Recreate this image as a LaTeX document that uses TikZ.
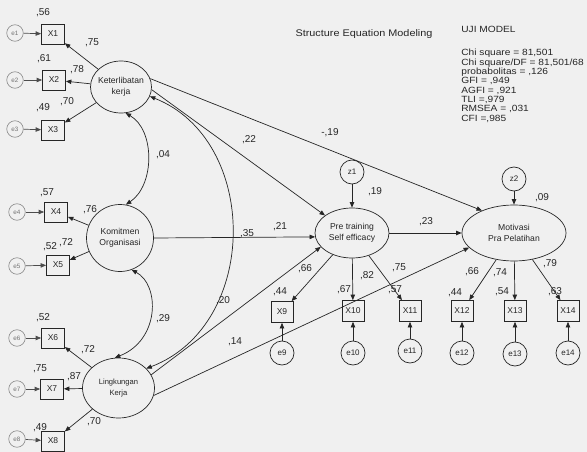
\documentclass[tikz,border=0pt]{standalone}
\usepackage{fontspec}
\setmainfont{Liberation Sans}
\newfontfamily\widefont[FakeStretch=1.13]{Liberation Sans}
\usetikzlibrary{arrows.meta,shapes.geometric}
\begin{document}
\begin{tikzpicture}[x=1pt,y=-1pt,
  color=black!85,
  line width=0.7pt,
  >={Triangle[length=5.5pt,width=4.4pt]},
  lat/.style={ellipse,draw,inner sep=-5pt,align=center,font=\fontsize{8.6}{10.8}\selectfont},
  obs/.style={rectangle,draw,minimum width=23pt,minimum height=20pt,inner sep=0pt,font=\fontsize{8.5}{10}\selectfont},
  obsb/.style={obs,minimum width=22pt,minimum height=21pt},
  err/.style={circle,draw,minimum size=24pt,inner sep=0pt,font=\fontsize{8}{9}\selectfont},
  errg/.style={circle,draw=black!45,line width=0.6pt,minimum size=16.5pt,inner sep=0pt,text=black!55,font=\fontsize{6.3}{7}\selectfont},
  num/.style={inner sep=0pt,font=\fontsize{10}{11}\selectfont},
  fitline/.style={anchor=base west,inner sep=0pt,font=\widefont\fontsize{9}{10}\selectfont},
  arr/.style={->},
  arrg/.style={->,draw=black!70},
  cov/.style={<->},
]
\path[use as bounding box,fill=black!6] (0,0) rectangle (587,452);

% latent variables
\node[lat,minimum width=61pt,minimum height=52pt] (K) at (121,87) {Keterlibatan\\kerja};
\node[lat,minimum width=67pt,minimum height=67pt] (KO) at (120,238) {Komitmen\\Organisasi};
\node[lat,minimum width=72pt,minimum height=60pt,font=\fontsize{7.6}{11.5}\selectfont] (L) at (118.5,388) {Lingkungan\\Kerja};
\node[lat,minimum width=74pt,minimum height=50pt] (P) at (352,233) {Pre training\\Self efficacy};
\node[lat,minimum width=104pt,minimum height=56pt] (M) at (514,233) {Motivasi\\Pra Pelatihan};

% disturbances
\node[err] (z1) at (352,172) {z1};
\node[err] (z2) at (514,179) {z2};

% left indicators
\node[obs] (X1) at (53,34) {X1};
\node[obs] (X2) at (54,80) {X2};
\node[obs] (X3) at (53,130) {X3};
\node[obs] (X4) at (56,212) {X4};
\node[obs] (X5) at (58,265) {X5};
\node[obs] (X6) at (53,338) {X6};
\node[obs] (X7) at (52,389) {X7};
\node[obs] (X8) at (53,441) {X8};

\node[errg] (e1) at (15,33) {e1};
\node[errg] (e2) at (15,80) {e2};
\node[errg] (e3) at (15,129) {e3};
\node[errg] (e4) at (17,212) {e4};
\node[errg] (e5) at (17,266) {e5};
\node[errg] (e6) at (17,338) {e6};
\node[errg] (e7) at (17,389) {e7};
\node[errg] (e8) at (17,439) {e8};

% bottom indicators
\node[obsb] (X9) at (282,312) {X9};
\node[obsb] (X10) at (353,311) {X10};
\node[obsb] (X11) at (410,311) {X11};
\node[obsb] (X12) at (462,311) {X12};
\node[obsb] (X13) at (515,311) {X13};
\node[obsb] (X14) at (568,311) {X14};

\node[err] (e9) at (282,353) {e9};
\node[err] (e10) at (353,353) {e10};
\node[err] (e11) at (410,351) {e11};
\node[err] (e12) at (462,353) {e12};
\node[err] (e13) at (515,354) {e13};
\node[err] (e14) at (568,353) {e14};

% error arrows
\foreach \i in {1,...,8} {\draw[arrg] (e\i) -- (X\i);}
\foreach \i in {9,...,14} {\draw[arr] (e\i) -- (X\i);}
\draw[arr] (z1) -- (P);
\draw[arr] (z2) -- (M);

% loadings
\draw[arr] (K) -- (X1);
\draw[arr] (K) -- (X2);
\draw[arr] (K) -- (X3);
\draw[arr] (KO) -- (X4);
\draw[arr] (KO) -- (X5);
\draw[arr] (L) -- (X6);
\draw[arr] (L) -- (X7);
\draw[arr] (L) -- (X8);
\draw[arr] (P) -- (X9);
\draw[arr] (P) -- (X10);
\draw[arr] (P) -- (X11);
\draw[arr] (M) -- (X12);
\draw[arr] (M) -- (X13);
\draw[arr] (M) -- (X14);

% structural paths
\draw[arr] (K.16) -- (M.145);
\draw[arr] (K.-5) -- (P.147);
\draw[arr] (KO.east) -- (P.186);
\draw[arr] (L.22) -- (P.204);
\draw[arr] (L.-12) -- (M.198);
\draw[arr] (P.east) -- (M.west);

% covariances
\draw[cov] (K.-80) .. controls (155,130) and (155,185) .. (KO.80);
\draw[cov] (KO.-70) .. controls (160,285) and (160,340) .. (L.97);
\draw[cov] (K.-18) .. controls (260,140) and (260,325) .. (L.35);

% estimates
\node[num] (n1) at (43,13) {,56};
\node[num] (n2) at (92,43) {,75};
\node[num] (n3) at (44,59) {,61};
\node[num] (n4) at (77,70) {,78};
\node[num] (n5) at (43,108) {,49};
\node[num] (n6) at (67,102) {,70};
\node[num] (n7) at (47,193) {,57};
\node[num] (n8) at (90,210) {,76};
\node[num] (n9) at (50,247) {,52};
\node[num] (n10) at (66,243) {,72};
\node[num] (n11) at (163,155) {,04};
\node[num] (n12) at (43,318) {,52};
\node[num] (n13) at (88,350) {,72};
\node[num] (n14) at (40,369) {,75};
\node[num] (n15) at (74,377) {,87};
\node[num] (n16) at (40,428) {,49};
\node[num] (n17) at (94,422) {,70};
\node[num] (n18) at (163,319) {,29};
\node[num] (n19) at (223,301) {,20};
\node[num] (n20) at (235,342) {,14};
\node[num] (n21) at (249,140) {,22};
\node[num] (n22) at (330,133) {-,19};
\node[num] (n23) at (375,192) {,19};
\node[num] (n24) at (280,227) {,21};
\node[num] (n25) at (247,234) {,35};
\node[num] (n26) at (426,222) {,23};
\node[num] (n27) at (305,269) {,66};
\node[num] (n28) at (280,292) {,44};
\node[num] (n29) at (367,276) {,82};
\node[num] (n30) at (399,268) {,75};
\node[num] (n31) at (344,290) {,67};
\node[num] (n32) at (395,290) {,57};
\node[num] (n33) at (542,198) {,09};
\node[num] (n34) at (472,272) {,66};
\node[num] (n35) at (500,273) {,74};
\node[num] (n36) at (550,264) {,79};
\node[num] (n37) at (455,293) {,44};
\node[num] (n38) at (502,292) {,54};
\node[num] (n39) at (555,292) {,63};

% title and fit block
\node[anchor=base,inner sep=0pt,font=\widefont\fontsize{9.6}{11}\selectfont] (title) at (364,37) {Structure Equation Modeling};
\node[fitline] (uji) at (461,32.5) {UJI MODEL};
\node[fitline] (f1) at (461,55.8) {Chi square = 81,501};
\node[fitline] (f2) at (461,65.1) {Chi square/DF = 81,501/68};
\node[fitline] (f3) at (461,74.5) {probabolitas = ,126};
\node[fitline] (f4) at (461,83.8) {GFI = ,949};
\node[fitline] (f5) at (461,93.2) {AGFI = ,921};
\node[fitline] (f6) at (461,102.5) {TLI =,979};
\node[fitline] (f7) at (461,111.8) {RMSEA = ,031};
\node[fitline] (f8) at (461,121.2) {CFI =,985};
\end{tikzpicture}
\end{document}
